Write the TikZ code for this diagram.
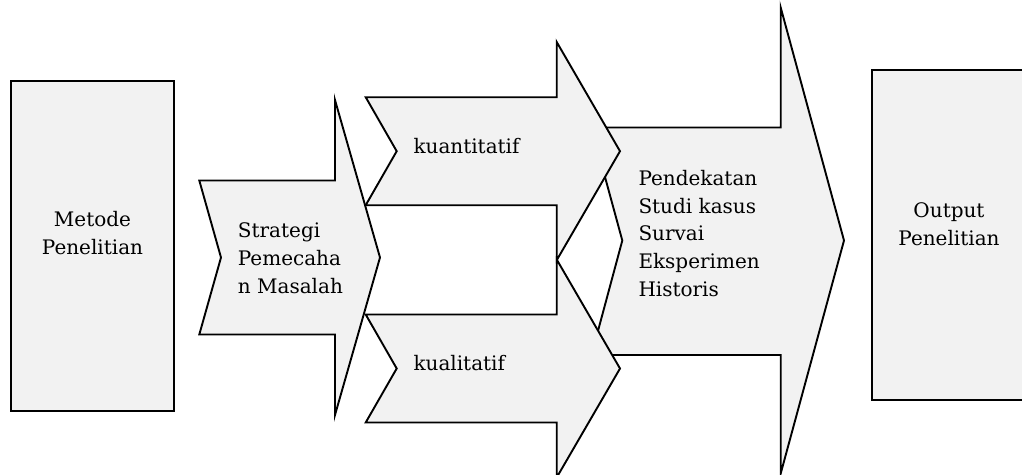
\documentclass[tikz,border=0pt]{standalone}
\usepackage{fontspec}
\setmainfont{DejaVu Serif}
\definecolor{shapefill}{HTML}{F2F2F2}
\begin{document}
\begin{tikzpicture}[x=1pt,y=-1pt,
  shapeline/.style={draw=black,line width=1.9pt,fill=shapefill,line join=miter},
  lbl/.style={inner sep=0pt,font=\fontsize{20}{27.9}\selectfont}]
\clip (0,0) rectangle (1022,474);
\useasboundingbox (0,0) rectangle (1022,474);
% left box
\path[shapeline] (11,81) rectangle (174,411);
% strategi arrow
\path[shapeline] (199.3,180.5) -- (335,180.5) -- (335,100) -- (380,257.5) -- (335,415) -- (335,334.5) -- (199.3,334.5) -- (221,257.5) -- cycle;
% pendekatan arrow (behind)
\path[shapeline] (591.5,127.5) -- (780.7,127.5) -- (780.7,7.5) -- (844,240.5) -- (780.7,473.5) -- (780.7,355) -- (591.5,355) -- (622.3,240.5) -- cycle;
% kuantitatif arrow
\path[shapeline] (365.7,97.2) -- (556.7,97.2) -- (556.7,42) -- (620,151.2) -- (556.7,260.2) -- (556.7,205.2) -- (365.7,205.2) -- (396.7,151.2) -- cycle;
% kualitatif arrow
\path[shapeline] (365.7,314.5) -- (556.7,314.5) -- (556.7,259.5) -- (620,368.5) -- (556.7,477.5) -- (556.7,422.5) -- (365.7,422.5) -- (396.7,368.5) -- cycle;
% right box
\path[shapeline] (871.7,70) rectangle (1040,400);
% labels (base anchor = baseline of the last line)
\node[lbl,anchor=base,align=center] (metode) at (92.5,254.3) {Metode\\Penelitian};
\node[lbl,anchor=base west,align=left] (strategi) at (237.7,293.3) {Strategi\\Pemecaha\\n Masalah};
\node[lbl,anchor=base west] (kuan) at (413.3,153.3) {kuantitatif};
\node[lbl,anchor=base west] (kual) at (413.3,370.7) {kualitatif};
\node[lbl,anchor=base west,align=left] (pend) at (638.3,296.7) {Pendekatan\\Studi kasus\\Survai\\Eksperimen\\Historis};
\node[lbl,anchor=base,align=center] (output) at (949,245) {Output\\Penelitian};
\end{tikzpicture}
\end{document}
